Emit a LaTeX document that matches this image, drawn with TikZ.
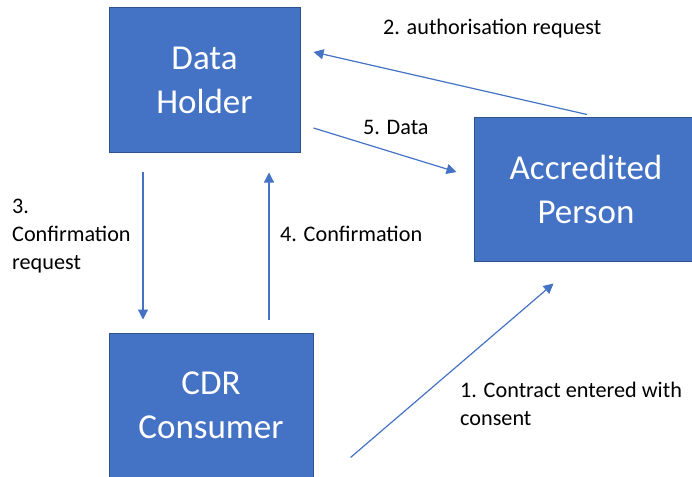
\documentclass[tikz,border=0pt]{standalone}
\usepackage{fontspec}
\setmainfont{Carlito}
\usetikzlibrary{arrows.meta,calc}
\definecolor{boxblue}{HTML}{4472C4}
\definecolor{boxedge}{HTML}{2F528F}
\definecolor{arrowblue}{HTML}{4472C4}
\begin{document}
\begin{tikzpicture}[x=1pt,y=-1pt,
  box/.style={draw=boxedge, line width=1pt, fill=boxblue, text=white,
    font=\fontsize{35}{44}\selectfont, align=center, inner sep=0pt,
    minimum height=144pt},
  lbl/.style={font=\fontsize{22.2}{28}\selectfont, inner sep=0pt,
    anchor=base west, text=black},
  arr/.style={draw=arrowblue, line width=1.2pt,
    -{Triangle[length=10pt,width=10pt]}}]
\useasboundingbox (0,0) rectangle (692,476);
\clip (0,0) rectangle (692,476);
% boxes
\node[box, minimum width=191pt] (dh) at (204.5,80) {Data\\Holder};
\node[box, minimum width=224pt] (ap) at (586,189) {Accredited\\Person};
\node[box, minimum width=204pt] (cdr) at (211,405) {CDR\\Consumer};
% connector ends
\coordinate (a2s) at ($(ap.north)+(1,-2)$);
\coordinate (a2e) at ($(dh.east)+(13,-28)$);
\coordinate (a5s) at ($(dh.east)+(13,48)$);
\coordinate (a5e) at ($(ap.west)+(-17,-17)$);
\coordinate (a3s) at ($(dh.south)+(-61.5,19)$);
\coordinate (a3e) at ($(cdr.north)+(-68,-13)$);
\coordinate (a4s) at ($(cdr.north)+(58,-13)$);
\coordinate (a4e) at ($(dh.south)+(64.5,20)$);
\coordinate (a1s) at ($(cdr.south east)+(37,-20)$);
\coordinate (a1e) at ($(ap.south west)+(80,22)$);
% connectors
\draw[arr] (a2s) -- (a2e);
\draw[arr] (a5s) -- (a5e);
\draw[arr] (a3s) -- (a3e);
\draw[arr] (a4s) -- (a4e);
\draw[arr] (a1s) -- (a1e);
% labels
\node[lbl] (l2) at (383,35) {2. authorisation request};
\node[lbl] (l5) at (363,134) {5. Data};
\node[lbl] (l3) at (12,213) {\begin{tabular}[t]{@{}l@{}}3.\\Confirmation\\request\end{tabular}};
\node[lbl] (l4) at (280,241) {4. Confirmation};
\node[lbl] (l1) at (460,397) {\begin{tabular}[t]{@{}l@{}}1. Contract entered with\\consent\end{tabular}};
\end{tikzpicture}
\end{document}
